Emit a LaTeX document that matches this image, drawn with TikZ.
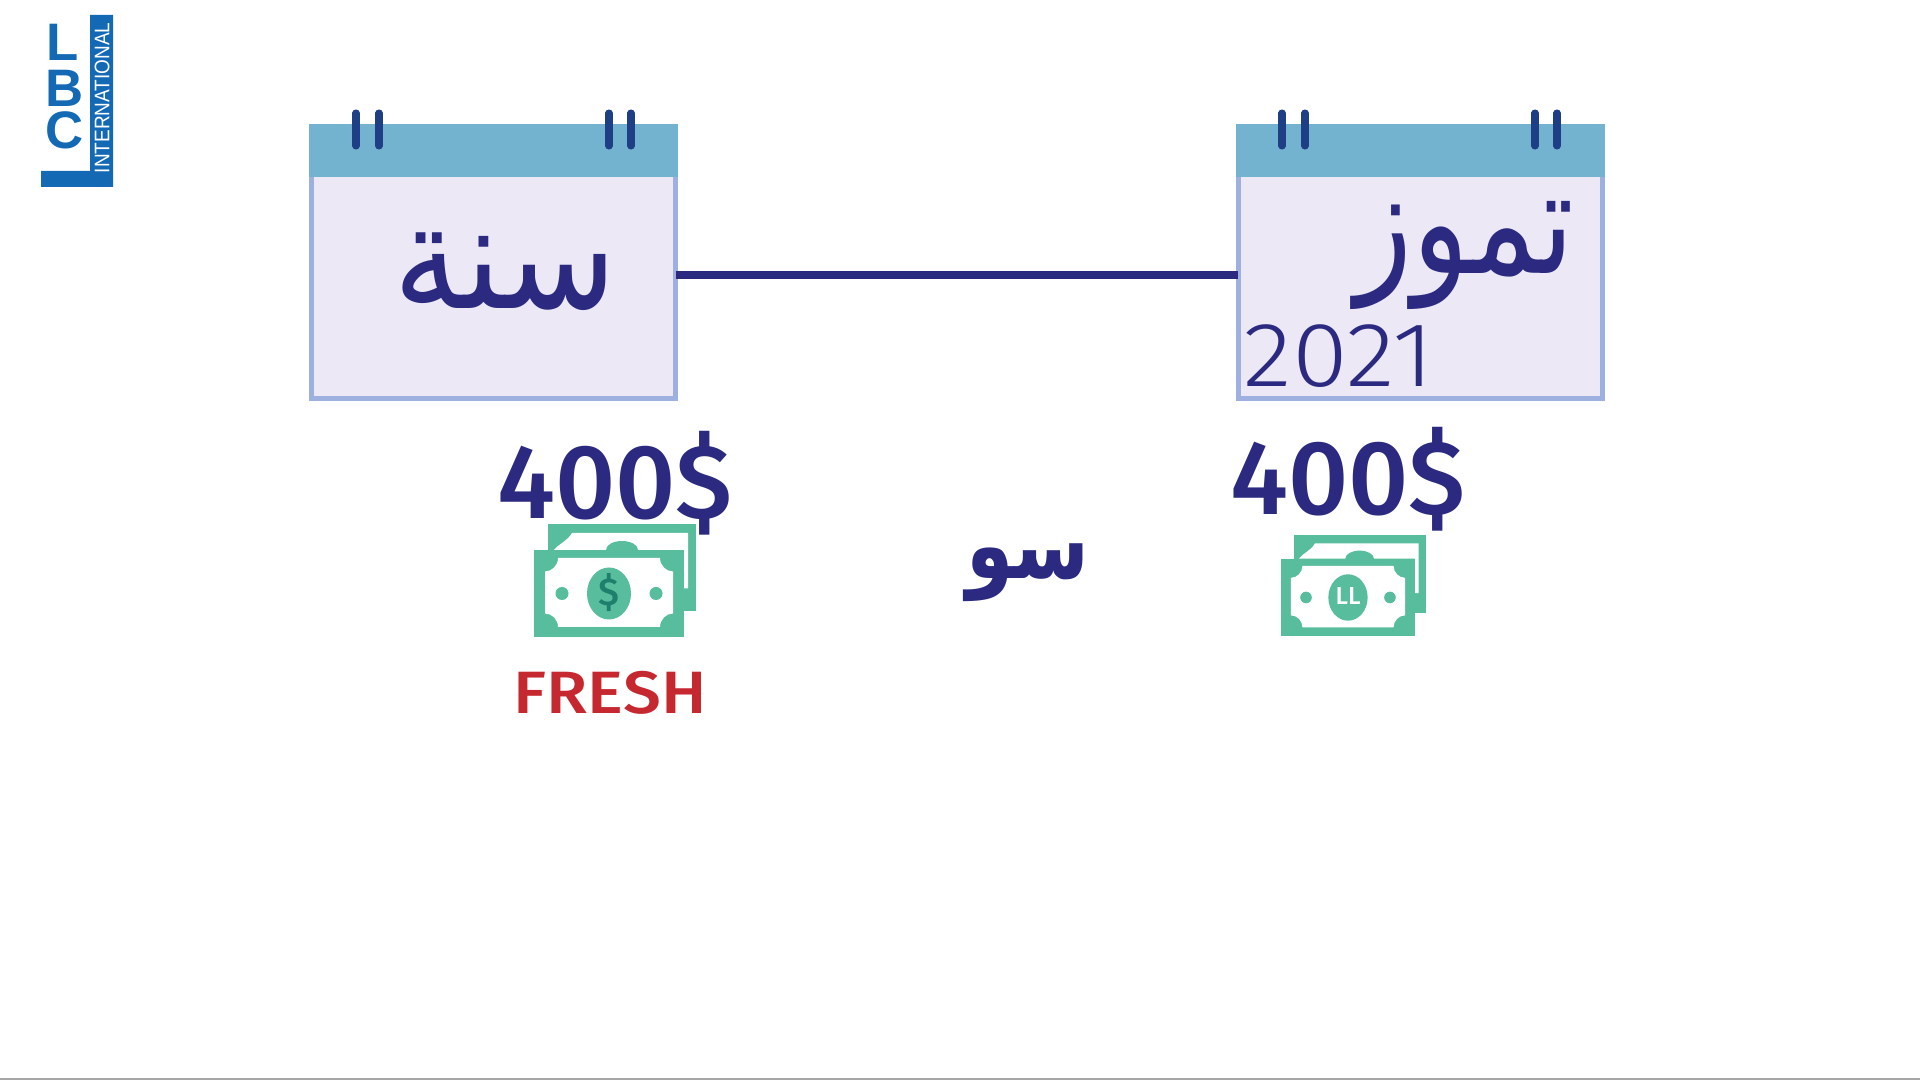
\documentclass[tikz,border=0pt]{standalone}
\usepackage{fontspec}
\usepackage{xcolor}
\usetikzlibrary{positioning}
\TeXXeTstate=1
\setmainfont[UprightFont=* Medium]{Fira Sans}
\newfontfamily\arabicfont[Script=Arabic]{DejaVu Sans}
\newfontfamily\lightfont[UprightFont=* Light]{Fira Sans}
\newfontfamily\logofont{Liberation Sans}
\definecolor{navy}{HTML}{2B2A80}
\definecolor{headblue}{HTML}{73B3D0}
\definecolor{bodylilac}{HTML}{ECE8F6}
\definecolor{edgeblue}{HTML}{9DB0E0}
\definecolor{ringblue}{HTML}{1E3E85}
\definecolor{billgreen}{HTML}{58BD9C}
\definecolor{billdark}{HTML}{1E7F6C}
\definecolor{freshred}{HTML}{C6282F}
\definecolor{logoblue}{HTML}{1469B4}

\begin{document}
\begin{tikzpicture}[
    x=0.01cm, y=-0.01cm,
    calbody/.style={rectangle, draw=edgeblue, fill=bodylilac, line width=1.4pt, minimum width=3.64cm, minimum height=2.72cm, inner sep=0pt, outer sep=0pt},
    calhead/.style={rectangle, fill=headblue, minimum width=3.69cm, minimum height=0.53cm, inner sep=0pt, outer sep=0pt},
    ring/.style={ringblue, line width=2pt, line cap=round},
    month/.style={navy, inner sep=0pt, font=\arabicfont\fontsize{42}{42}\selectfont},
    amount/.style={navy, inner sep=0pt, font=\fontsize{30}{30}\selectfont},
    logoletter/.style={logoblue, inner sep=0pt, font=\logofont\bfseries\fontsize{15}{15}\selectfont},
    bill/.pic={
        \fill[billgreen] (-61,-69.5) rectangle (87,17.5);
        \fill[white] (-37,-60.5) -- (79,-60.5) -- (79,-5) -- (75,-5) -- (75,-43.5) -- (-55,-43.5) .. controls (-50,-50) and (-42,-52) .. cycle;
        \fill[billgreen] (-75,-43.5) rectangle (75,43.5);
        \fill[billgreen] (13,-43.5) ellipse [x radius=16, y radius=9];
        \fill[white] (-51,-35.5) -- (51,-35.5) .. controls (51,-28) and (57,-22) .. (64,-22) -- (64,20) .. controls (57,20) and (51,26) .. (51,33.5) -- (-51,33.5) .. controls (-51,26) and (-57,20) .. (-64,20) -- (-64,-22) .. controls (-57,-22) and (-51,-28) .. cycle;
        \fill[billgreen] (0,0) ellipse [x radius=22, y radius=26];
        \fill[billgreen] (-47,0) circle [radius=6.5];
        \fill[billgreen] (47,0) circle [radius=6.5];
    }
]
\fill[white] (0,0) rectangle (1920,1080);
\useasboundingbox (0,0) rectangle (1920,1080);
\fill[gray!70] (0,1078) rectangle (1920,1080);

% logo
\fill[logoblue] (90,15) -- (113,15) -- (113,187) -- (41,187) -- (41,171) -- (90,171) -- cycle;
\node[logoletter] (logoL) at (63,42) {L};
\node[logoletter] (logoB) at (65,88) {B};
\node[logoletter] (logoC) at (65,130) {C};
\node[white, inner sep=0pt, rotate=90, xscale=0.9, font=\logofont\fontsize{6}{6}\selectfont] (logoint) at (102,98) {INTERNATIONAL};

% calendars
\node[calbody] (calL) at (493.5,262.5) {};
\node[calbody] (calR) at (1420.5,262.5) {};
\node[calhead, below=-2.745cm of calL] (headL) {};
\node[calhead, below=-2.745cm of calR] (headR) {};
\foreach \x in {356,379,609,631,1282,1305,1535,1557}
    \draw[ring] (\x,113) -- (\x,146);
\draw[navy, line width=2.1pt] ([yshift=-0.125cm]calL.east) -- ([yshift=-0.125cm]calR.west);

\node[month, xscale=0.9] (year) at (505,272) {\beginR سنة\endR};
\node[month, xscale=0.8] (july) at (1465,255) {\beginR تموز\endR};
\node[navy, inner sep=0pt, xscale=1.11, font=\lightfont\fontsize{26}{26}\selectfont] (yr) at (1339,356) {2021};

% amounts
\node[amount] (amountL) at (615,483) {400\$};
\node[amount] (amountR) at (1348,479) {400\$};
\pic at (609,593.5) {bill};
\pic[scale=0.893] at (1348,597.5) {bill};
\node[billdark, inner sep=0pt, font=\fontsize{11}{11}\selectfont] (dollar) at (609,593) {\$};
\node[white, inner sep=0pt, font=\fontsize{7}{7}\selectfont] (lira) at (1348,596) {LL};
\node[freshred, inner sep=0pt, xscale=1.13, font=\fontsize{17}{17}\selectfont] (fresh) at (610,693) {FRESH};
\node[navy, inner sep=0pt, xscale=0.8, font=\arabicfont\bfseries\fontsize{27}{27}\selectfont] (so) at (1028,573) {\beginR سو\endR};
\end{tikzpicture}
\end{document}
